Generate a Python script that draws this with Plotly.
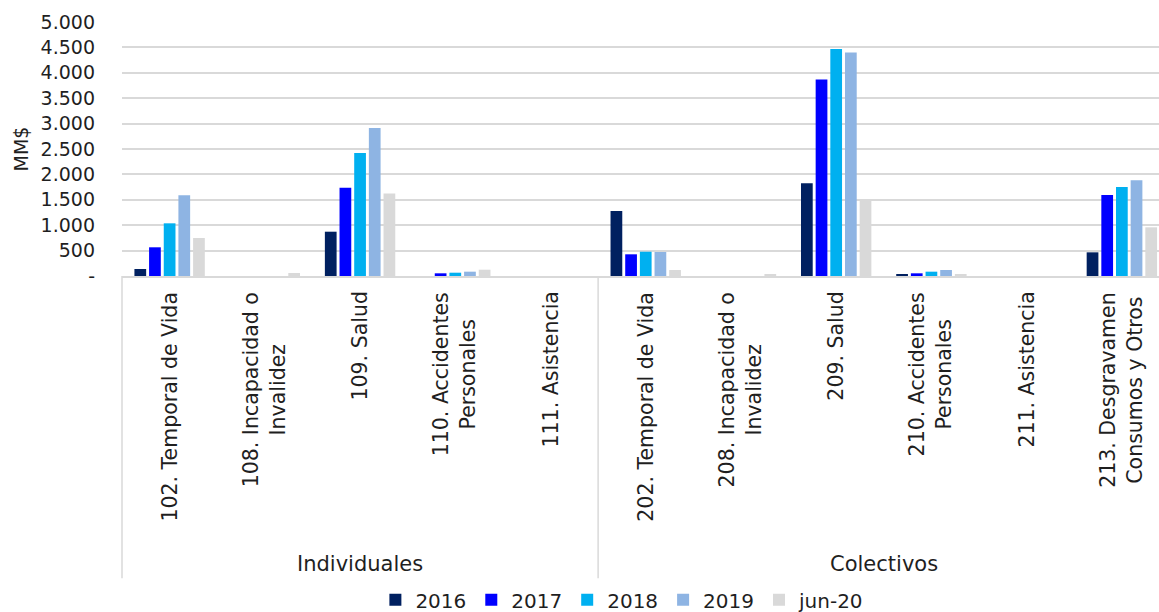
import plotly.graph_objects as go

# Ramos (categorías) por grupo
categories = [
    "102. Temporal de Vida", "108. Incapacidad o<br>Invalidez", "109. Salud",
    "110. Accidentes<br>Personales", "111. Asistencia",
    "202. Temporal de Vida", "208. Incapacidad o<br>Invalidez", "209. Salud",
    "210. Accidentes<br>Personales", "211. Asistencia",
    "213. Desgravamen<br>Consumos y Otros",
]
groups = ["Individuales", "Colectivos"]
group_sizes = [5, 6]

# Prima directa en MM$ por período
series_names = ["2016", "2017", "2018", "2019", "jun-20"]
v2016 = [138, 0, 872, 0, 0, 1280, 0, 1825, 39, 0, 466]
v2017 = [565, 0, 1738, 53, 0, 427, 0, 3868, 53, 0, 1594]
v2018 = [1037, 0, 2421, 65, 0, 478, 0, 4467, 85, 0, 1752]
v2019 = [1589, 0, 2913, 85, 0, 472, 0, 4402, 118, 0, 1884]
vjun20 = [748, 59, 1626, 124, 0, 118, 39, 1483, 39, 0, 958]
series_values = [v2016, v2017, v2018, v2019, vjun20]
colors = ["#002060", "#0000FF", "#00B0F0", "#8EB4E3", "#D9D9D9"]

# Eje Y
y_tickvals = [0, 500, 1000, 1500, 2000, 2500, 3000, 3500, 4000, 4500, 5000]
y_ticktext = ["-", "500", "1.000", "1.500", "2.000", "2.500", "3.000",
              "3.500", "4.000", "4.500", "5.000"]

FONT = "DejaVu Sans"
TEXT = "#1f1f1f"
GRID = "#d9d9d9"

fig = go.Figure()
for name, vals, col in zip(series_names, series_values, colors):
    fig.add_trace(go.Bar(
        name=name, x=list(range(len(categories))), y=vals,
        marker=dict(color=col, line=dict(width=0)),
    ))

# Etiquetas de categoría, rotadas y centradas línea a línea
annotations = []
for i, cat in enumerate(categories):
    annotations.append(dict(
        x=i, xref="x", y=-0.055, yref="paper",
        text=cat, textangle=-90, showarrow=False,
        xanchor="center", yanchor="top", align="center",
        font=dict(family=FONT, size=20.5, color=TEXT),
    ))

# Etiquetas de grupo y separadores
shapes = []
start = 0
for g, n in zip(groups, group_sizes):
    annotations.append(dict(
        x=start + (n - 1) / 2, xref="x", y=-1.135, yref="paper",
        text=g, showarrow=False, xanchor="center", yanchor="middle",
        font=dict(family=FONT, size=21, color=TEXT),
    ))
    if start == 0:
        shapes.append(dict(type="line", xref="paper", x0=0, x1=0,
                           yref="paper", y0=0, y1=-1.19,
                           line=dict(color=GRID, width=1.5)))
    else:
        shapes.append(dict(type="line", xref="x", x0=start - 0.5, x1=start - 0.5,
                           yref="paper", y0=0, y1=-1.19,
                           line=dict(color=GRID, width=1.5)))
    start += n

fig.update_layout(
    width=1159, height=612,
    margin=dict(l=122, r=0, t=22, b=336, autoexpand=False),
    paper_bgcolor="white", plot_bgcolor="white",
    font=dict(family=FONT, color=TEXT),
    barmode="group", bargap=0.23, bargroupgap=0.2,
    annotations=annotations, shapes=shapes,
    legend=dict(
        orientation="h", x=0.537, xanchor="center", xref="container",
        y=0.02, yanchor="middle", yref="container",
        font=dict(family=FONT, size=20, color=TEXT),
        itemwidth=30, traceorder="normal",
    ),
    xaxis=dict(
        range=[-0.5, 10.39], showticklabels=False, showgrid=False,
        showline=True, linecolor=GRID, linewidth=1.5, ticks="",
        zeroline=False, fixedrange=True,
    ),
    yaxis=dict(
        range=[0, 5000], tickvals=y_tickvals, ticktext=y_ticktext,
        showgrid=True, gridcolor=GRID, gridwidth=1.5, zeroline=False,
        showline=False, ticks="", ticklabelstandoff=26,
        tickfont=dict(family=FONT, size=19, color=TEXT),
        title=dict(text="MM$", standoff=6, font=dict(family=FONT, size=19, color=TEXT)),
    ),
)

fig.write_html("out.html")
